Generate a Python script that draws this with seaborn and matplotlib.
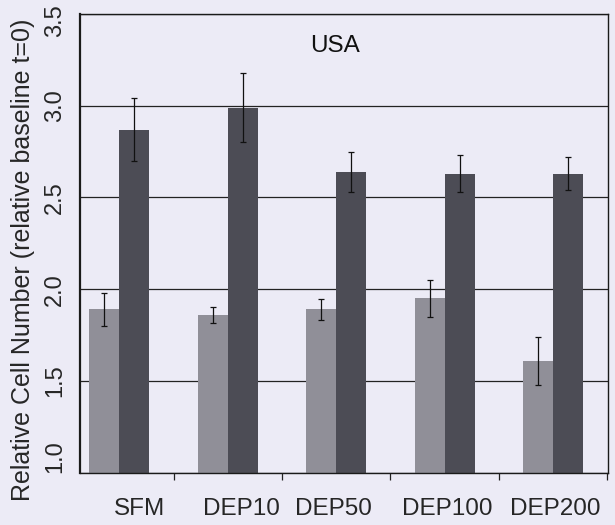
import matplotlib
matplotlib.use("Agg")
import matplotlib.pyplot as plt
import matplotlib.transforms as mtransforms
import seaborn as sns
import pandas as pd
import numpy as np

categories = ["SFM", "DEP10", "DEP50", "DEP100", "DEP200"]
series_names = ["light", "dark"]
light_vals = [1.89, 1.86, 1.89, 1.95, 1.61]
light_err = [0.09, 0.045, 0.055, 0.10, 0.13]
dark_vals = [2.87, 2.99, 2.64, 2.63, 2.63]
dark_err = [0.17, 0.19, 0.11, 0.10, 0.09]
yticks = [1.0, 1.5, 2.0, 2.5, 3.0, 3.5]
title = "USA"
ylabel = "Relative Cell Number (relative baseline t=0)"

bg = "#ecebf6"
colors = ["#8f8d9a", "#4b4a57"]

df = pd.DataFrame({
    "cat": categories * 2,
    "series": [series_names[0]] * len(categories) + [series_names[1]] * len(categories),
    "val": light_vals + dark_vals,
    "err": light_err + dark_err,
})

sns.set_theme(style="white")
plt.rcParams["font.family"] = ["Liberation Sans", "DejaVu Sans"]

fig = plt.figure(figsize=(6.15, 5.25), dpi=100, facecolor=bg)
ax = fig.add_axes([0.130, 0.0996, 0.8586, 0.8737])
ax.set_facecolor(bg)

# gridlines behind bars
ax.set_axisbelow(True)
for yv in yticks:
    ax.axhline(yv, color="#222222", lw=0.9, zorder=0)

sns.barplot(data=df, x="cat", y="val", hue="series", order=categories,
            hue_order=series_names, palette=colors, width=0.554,
            errorbar=None, linewidth=0, legend=False, ax=ax, zorder=2)

# error bars at bar centres
for patch_group, s in zip(ax.containers, series_names):
    sub = df[df["series"] == s].set_index("cat").loc[categories]
    xs = [p.get_x() + p.get_width() / 2 for p in patch_group]
    ax.errorbar(xs, sub["val"].values, yerr=sub["err"].values, fmt="none",
                ecolor="#111111", elinewidth=0.9, capsize=2.5, capthick=0.9, zorder=3)

ax.set_ylim(1.0, 3.5)
ax.set_xlim(-0.364, 4.506)
ax.set_yticks(yticks)
ax.set_yticklabels([f"{v:.1f}" for v in yticks], rotation=90, va="center", fontsize=17)
ax.tick_params(axis="y", direction="in", length=4, width=0.8, pad=10, color="#222222")

# end labels pushed inward like the original
ylabs = ax.get_yticklabels()
ylabs[0].set_transform(ylabs[0].get_transform() + mtransforms.ScaledTranslation(0, 16 / 100, fig.dpi_scale_trans))
ylabs[-1].set_transform(ylabs[-1].get_transform() + mtransforms.ScaledTranslation(0, -7 / 100, fig.dpi_scale_trans))

ax.set_xticks(range(len(categories)))
ax.set_xticklabels(categories, fontsize=17.5)
ax.tick_params(axis="x", which="major", length=0, pad=18)
ax.set_xticks([i + 0.5 for i in range(len(categories))], minor=True)
ax.tick_params(axis="x", which="minor", direction="out", length=5, width=0.9, color="#222222", bottom=True)

label_shift = [20, 14, -3, 3, 2]
for lab, dx in zip(ax.get_xticklabels(), label_shift):
    lab.set_transform(lab.get_transform() + mtransforms.ScaledTranslation(dx / 100, 0, fig.dpi_scale_trans))

ax.set_xlabel("")
ax.set_ylabel(ylabel, fontsize=18)
ax.yaxis.set_label_coords(-0.086, 0.465)

for side in ["left", "right", "top", "bottom"]:
    ax.spines[side].set_visible(True)
    ax.spines[side].set_color("#1a1a1a")
    ax.spines[side].set_linewidth(1.0)
ax.spines["left"].set_linewidth(1.6)

ax.text(0.483, 0.930, title, transform=ax.transAxes, ha="center", va="center", fontsize=17.5, color="#111111")

fig.savefig("out.png", dpi=100, facecolor=bg)
